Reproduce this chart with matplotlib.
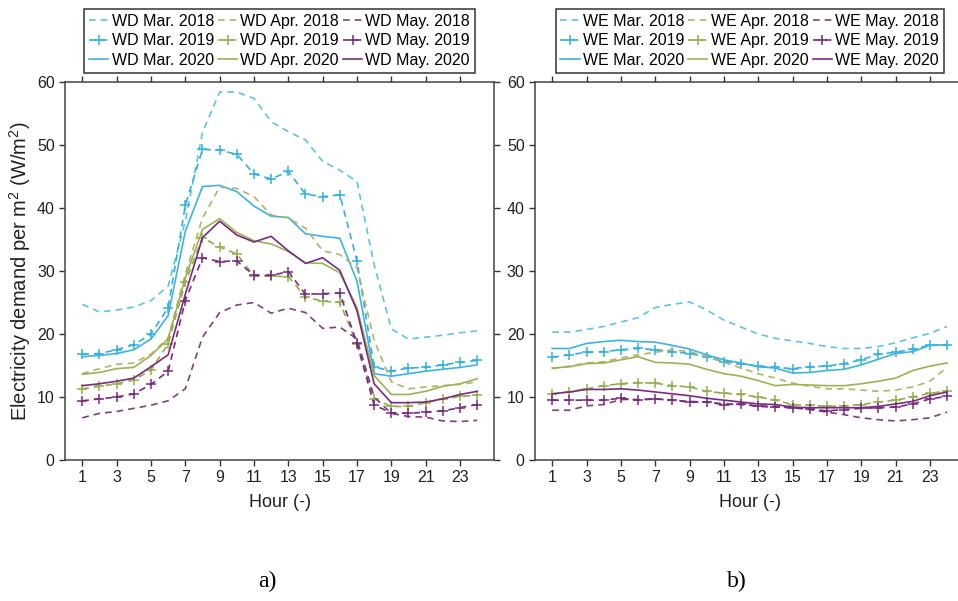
from matplotlib import pyplot as plt
import numpy as np

plt.rcParams['font.family'] = ['Liberation Sans', 'DejaVu Sans']
plt.rcParams['mathtext.default'] = 'regular'

hours = np.arange(1, 25)

# working days (WD)
wd_mar_2018 = [24.7, 23.5, 23.8, 24.3, 25.3, 27.6, 37.9, 52.0, 58.4, 58.4, 57.4, 53.7,
               52.1, 50.8, 47.4, 46.0, 44.2, 31.0, 20.8, 19.2, 19.5, 19.8, 20.2, 20.5]
wd_mar_2019 = [16.8, 16.9, 17.5, 18.3, 20.0, 24.2, 40.4, 49.3, 49.2, 48.5, 45.4, 44.6,
               45.8, 42.2, 41.8, 42.1, 31.6, 14.8, 14.1, 14.6, 14.7, 15.1, 15.5, 15.8]
wd_mar_2020 = [16.4, 16.6, 16.9, 17.5, 19.2, 22.9, 36.3, 43.4, 43.6, 42.6, 40.3, 38.7,
               38.5, 35.9, 35.5, 35.2, 28.4, 13.7, 13.3, 13.7, 14.1, 14.4, 14.7, 15.1]
wd_apr_2018 = [13.7, 14.5, 15.2, 15.4, 16.8, 19.4, 29.5, 38.4, 43.3, 43.1, 41.8, 38.9,
               38.4, 36.8, 33.2, 32.6, 30.5, 19.0, 12.4, 11.3, 11.6, 11.8, 12.0, 12.4]
wd_apr_2019 = [11.3, 11.7, 12.1, 12.7, 14.3, 18.4, 28.2, 35.3, 33.8, 32.7, 29.2, 29.2,
               29.1, 25.9, 25.2, 25.0, 18.4, 9.7, 8.5, 8.5, 9.1, 9.7, 10.1, 10.3]
wd_apr_2020 = [13.6, 13.9, 14.5, 14.7, 16.6, 19.2, 28.9, 36.6, 38.3, 36.1, 34.8, 34.3,
               33.1, 31.3, 31.2, 29.7, 24.2, 13.4, 10.4, 10.4, 10.9, 11.7, 12.1, 12.9]
wd_may_2018 = [6.7, 7.4, 7.7, 8.2, 8.7, 9.4, 11.3, 19.5, 23.4, 24.6, 25.0, 23.3,
               24.1, 23.4, 20.9, 21.1, 19.2, 10.0, 7.4, 6.9, 6.8, 6.2, 6.1, 6.3]
wd_may_2019 = [9.4, 9.7, 10.0, 10.5, 12.0, 14.1, 25.3, 32.1, 31.5, 31.6, 29.3, 29.3,
               29.9, 26.3, 26.4, 26.5, 18.5, 8.7, 7.5, 7.4, 7.6, 7.8, 8.3, 8.8]
wd_may_2020 = [11.8, 12.1, 12.5, 13.0, 14.8, 16.7, 26.3, 35.3, 37.9, 35.7, 34.6, 35.5,
               33.2, 31.2, 32.1, 30.1, 23.7, 12.1, 9.1, 9.1, 9.2, 9.7, 10.4, 10.9]

# weekends (WE)
we_mar_2018 = [20.3, 20.3, 20.7, 21.2, 21.9, 22.6, 24.2, 24.7, 25.1, 23.8, 22.2, 21.1,
               20.0, 19.3, 18.9, 18.5, 18.0, 17.7, 17.7, 18.0, 18.6, 19.4, 20.1, 21.2]
we_mar_2019 = [16.3, 16.7, 17.1, 17.2, 17.5, 17.7, 17.5, 17.2, 16.9, 16.4, 15.6, 15.3,
               14.9, 14.7, 14.5, 14.8, 14.9, 15.3, 15.9, 16.8, 17.1, 17.6, 18.2, 18.3]
we_mar_2020 = [17.7, 17.7, 18.5, 18.8, 19.0, 18.8, 18.7, 18.2, 17.6, 16.7, 15.9, 15.4,
               14.8, 14.6, 13.8, 13.9, 14.2, 14.4, 15.1, 16.0, 16.9, 17.2, 18.2, 18.3]
we_apr_2018 = [14.5, 14.9, 15.4, 15.6, 16.2, 16.7, 17.1, 17.5, 17.2, 16.4, 15.5, 14.6,
               13.7, 13.0, 12.2, 11.7, 11.3, 11.3, 11.1, 10.9, 11.1, 11.6, 12.5, 14.7]
we_apr_2019 = [10.5, 10.8, 11.3, 11.8, 12.1, 12.3, 12.2, 11.8, 11.6, 10.9, 10.6, 10.4,
               10.0, 9.5, 8.8, 8.7, 8.5, 8.6, 8.8, 9.2, 9.5, 10.0, 10.6, 10.9]
we_apr_2020 = [14.6, 14.8, 15.3, 15.4, 15.9, 16.4, 15.5, 15.4, 15.2, 14.4, 13.7, 13.3,
               12.6, 11.8, 12.0, 11.9, 11.8, 11.8, 12.1, 12.5, 13.0, 14.2, 14.9, 15.4]
we_may_2018 = [7.9, 7.9, 8.6, 8.8, 9.6, 9.6, 9.7, 9.5, 9.3, 9.2, 8.9, 8.8,
               8.6, 8.5, 8.3, 8.0, 7.6, 7.2, 6.7, 6.4, 6.2, 6.4, 6.7, 7.6]
we_may_2019 = [9.5, 9.5, 9.5, 9.5, 9.8, 9.5, 9.7, 9.5, 9.2, 9.2, 8.8, 8.9,
               8.5, 8.4, 8.3, 8.1, 7.8, 8.0, 8.2, 8.3, 8.4, 8.9, 9.7, 10.1]
we_may_2020 = [10.5, 10.8, 11.2, 11.2, 11.3, 11.1, 10.8, 10.5, 10.2, 9.8, 9.5, 9.2,
               8.9, 8.8, 8.4, 8.3, 8.3, 8.3, 8.3, 8.5, 8.9, 9.3, 10.2, 10.8]

months = ['Mar.', 'Apr.', 'May.']
years = ['2018', '2019', '2020']
month_colors = {'Mar.': ['#5cc3e6', '#2eb0e4', '#3db3e3'],
                'Apr.': ['#b3b266', '#93ad4a', '#9cb252'],
                'May.': ['#7d3f80', '#7a2a7e', '#7c2a80']}
year_styles = [dict(linestyle=(0, (4, 3)), marker=None),
               dict(linestyle=(0, (4, 3)), marker='+'),
               dict(linestyle='-', marker=None)]

wd = {'Mar.': [wd_mar_2018, wd_mar_2019, wd_mar_2020],
      'Apr.': [wd_apr_2018, wd_apr_2019, wd_apr_2020],
      'May.': [wd_may_2018, wd_may_2019, wd_may_2020]}
we = {'Mar.': [we_mar_2018, we_mar_2019, we_mar_2020],
      'Apr.': [we_apr_2018, we_apr_2019, we_apr_2020],
      'May.': [we_may_2018, we_may_2019, we_may_2020]}

fig = plt.figure(figsize=(9.58, 6.01), dpi=100)
ax1 = fig.add_axes([0.068, 0.2346, 0.448, 0.629])
ax2 = fig.add_axes([0.5585, 0.2346, 0.448, 0.629])

for ax, data, prefix, caption in [(ax1, wd, 'WD', 'a)'), (ax2, we, 'WE', 'b)')]:
    # month by month so that the 3-column legend fills like the original
    for m in months:
        for k, y in enumerate(years):
            st = year_styles[k]
            ax.plot(hours, data[m][k], color=month_colors[m][k], lw=1.2,
                    linestyle=st['linestyle'], marker=st['marker'], ms=7, mew=1.1,
                    label=f'{prefix} {m} {y}')
    ax.set_xlim(0, 25)
    ax.set_ylim(0, 60)
    ax.set_xticks(np.arange(1, 24, 2))
    ax.set_yticks(np.arange(0, 61, 10))
    ax.tick_params(direction='out', length=4, width=1, labelsize=11.5,
                   top=True, right=True, colors='#333333', labelcolor='#222222')
    for s in ax.spines.values():
        s.set_color('#444444')
        s.set_linewidth(1.1)
    ax.set_xlabel('Hour (-)', fontsize=13, color='#222222', labelpad=6)
    leg = ax.legend(ncol=3, loc='lower center', bbox_to_anchor=(0.5, 1.025),
                    fontsize=11.5, handlelength=1.2, handletextpad=0.2,
                    columnspacing=0.25, labelspacing=0.28, borderpad=0.3,
                    borderaxespad=0, fancybox=False, framealpha=1, edgecolor='#333333')
    leg.get_frame().set_linewidth(1.1)
    ax.text(0.47, -0.32, caption, transform=ax.transAxes, ha='center', va='center',
            fontsize=17, family='Liberation Serif')

ax1.set_ylabel('Electricity demand per m$^2$ (W/m$^2$)', fontsize=14.5,
               color='#222222', labelpad=3)

plt.savefig('out.png', dpi=100)
